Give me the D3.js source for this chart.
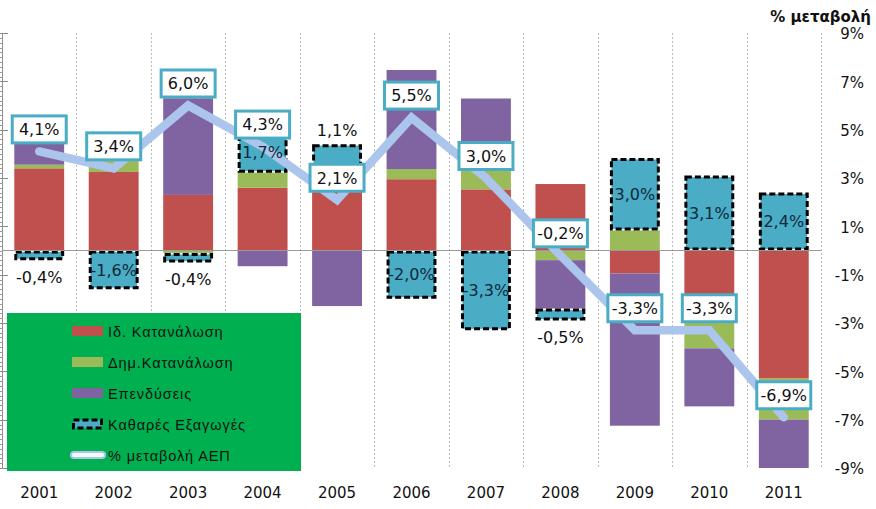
<!DOCTYPE html>
<html><head><meta charset="utf-8">
<script src="https://cdn.jsdelivr.net/npm/d3@7"></script>
<style>
body{margin:0;background:#fff;}
svg{display:block;}
</style></head>
<body>
<svg id="chart" width="876" height="509"></svg>
<script>
const years = ["2001","2002","2003","2004","2005","2006","2007","2008","2009","2010","2011"];
const privCons = [3.4, 3.25, 2.3, 2.6, 2.9, 2.95, 2.53, 2.75, -0.95, -3.0, -5.3];
const pubCons  = [0.15, 0.45, -0.1, 0.62, 0.4, 0.42, 0.83, -0.4, 0.83, -1.05, -1.7];
const invest   = [0.95, 0.0, 4.0, -0.65, -2.3, 4.1, 2.93, -2.0, -6.3, -2.4, -2.3];
const netExp   = [-0.4, -1.6, -0.4, 1.7, 1.1, -2.0, -3.3, -0.5, 3.0, 3.1, 2.4];
const gdp      = [4.1, 3.4, 6.0, 4.3, 2.1, 5.5, 3.0, -0.2, -3.3, -3.3, -6.9];
const yTicks   = [9, 7, 5, 3, 1, -1, -3, -5, -7, -9];
const seriesNames = ["Ιδ. Κατανάλωση", "Δημ.Κατανάλωση", "Επενδύσεις", "Καθαρές Εξαγωγές", "% μεταβολή ΑΕΠ"];
const colors = ["#c0504d", "#9bbb59", "#8064a2", "#4bacc6"];
const lineColor = "#abc5ec";

const fmt = v => v.toFixed(1).replace(".", ",") + "%";

const svg = d3.select("#chart");
const pLeft = 2, pRight = 821, pTop = 33, pBottom = 468;

const x = d3.scaleBand().domain(years).range([pLeft, pRight]).paddingInner(0.33).paddingOuter(0.165);
const y = d3.scaleLinear().domain([-9, 9]).range([pBottom, pTop]);
const step = x.step();

const rows = years.map((yr, i) => ({year: yr, p: privCons[i], g: pubCons[i], inv: invest[i], nx: netExp[i], gdp: gdp[i]}));
const keys = ["p", "g", "inv", "nx"];
const stacked = d3.stack().keys(keys).offset(d3.stackOffsetDiverging)(rows);

svg.append("clipPath").attr("id", "plotclip").append("rect")
  .attr("x", pLeft).attr("y", pTop).attr("width", pRight - pLeft).attr("height", pBottom - pTop);

// vertical dotted gridlines at category boundaries
svg.append("g").selectAll("line").data(years).join("line")
  .attr("x1", d => Math.round(x(d) + x.bandwidth() + (step - x.bandwidth()) / 2) + 0.5)
  .attr("x2", d => Math.round(x(d) + x.bandwidth() + (step - x.bandwidth()) / 2) + 0.5)
  .attr("y1", pTop).attr("y2", pBottom)
  .attr("stroke", "#b8b8b8").attr("stroke-width", 1).attr("stroke-dasharray", "2,2");

// left axis with minor ticks
const axG = svg.append("g");
axG.append("line").attr("x1", pLeft + 0.5).attr("x2", pLeft + 0.5).attr("y1", pTop).attr("y2", pBottom)
  .attr("stroke", "#8c8c8c").attr("stroke-width", 1);
axG.selectAll("line.minor").data(d3.range(-45, 46)).join("line").attr("class", "minor")
  .attr("x1", pLeft - 2).attr("x2", pLeft + 1)
  .attr("y1", d => Math.round(y(d / 5)) + 0.5).attr("y2", d => Math.round(y(d / 5)) + 0.5)
  .attr("stroke", "#9a9a9a").attr("stroke-width", 1);
axG.selectAll("line.major").data(yTicks).join("line").attr("class", "major")
  .attr("x1", pLeft - 2).attr("x2", pLeft + 6)
  .attr("y1", d => Math.round(y(d)) + 0.5).attr("y2", d => Math.round(y(d)) + 0.5)
  .attr("stroke", "#8c8c8c").attr("stroke-width", 1);

// bars
const barsG = svg.append("g").attr("clip-path", "url(#plotclip)");
stacked.forEach((s, si) => {
  const isNx = si === 3;
  const g = barsG.append("g");
  g.selectAll("rect").data(s).join("rect")
    .attr("x", d => x(d.data.year) + (isNx ? 1.5 : 0))
    .attr("width", x.bandwidth() - (isNx ? 3 : 0))
    .attr("y", d => y(Math.max(d[0], d[1])) + (isNx ? 1.5 : 0))
    .attr("height", d => Math.max(0, Math.abs(y(d[0]) - y(d[1])) - (isNx ? 3 : 0)))
    .attr("fill", colors[si])
    .attr("stroke", isNx ? "#000" : "none")
    .attr("stroke-width", isNx ? 3 : 0)
    .attr("stroke-dasharray", isNx ? "6,3" : null);
});

// zero line
svg.append("line").attr("x1", pLeft).attr("x2", pRight)
  .attr("y1", Math.round(y(0)) - 0.5).attr("y2", Math.round(y(0)) - 0.5)
  .attr("stroke", "#9a9a9a").attr("stroke-width", 1);

// GDP line
const line = d3.line().x(d => x(d.year) + x.bandwidth() / 2).y(d => y(d.gdp));
svg.append("path").datum(rows).attr("d", line)
  .attr("fill", "none").attr("stroke", lineColor).attr("stroke-width", 8.5)
  .attr("stroke-linecap", "round").attr("stroke-linejoin", "miter");

// net export labels
const nxS = stacked[3];
const nxG = svg.append("g");
nxS.forEach(d => {
  const v = d.data.nx;
  const cx = x(d.data.year) + x.bandwidth() / 2;
  const lo = y(Math.min(d[0], d[1])), hi = y(Math.max(d[0], d[1]));
  let ty;
  if (Math.abs(v) >= 1.5) ty = (lo + hi) / 2;
  else if (v > 0) ty = hi - 14;
  else ty = lo + 17;
  nxG.append("text").attr("x", cx).attr("y", ty).attr("dy", "0.36em")
    .attr("text-anchor", "middle").attr("font-family", "DejaVu Sans, Verdana, sans-serif")
    .attr("font-size", 16).attr("fill", Math.abs(v) >= 1.5 ? "#0d2a3a" : "#111").text(fmt(v));
});

// GDP labels in boxes
const lblG = svg.append("g");
rows.forEach(d => {
  const cx = x(d.year) + x.bandwidth() / 2;
  const cy = y(d.gdp) - 22;
  const bw = 54, bh = 27;
  lblG.append("rect").attr("x", cx - bw / 2).attr("y", cy - bh / 2).attr("width", bw).attr("height", bh)
    .attr("fill", "#fff").attr("stroke", "#4bacc6").attr("stroke-width", 3);
  lblG.append("text").attr("x", cx).attr("y", cy).attr("dy", "0.36em")
    .attr("text-anchor", "middle").attr("font-family", "DejaVu Sans, Verdana, sans-serif")
    .attr("font-size", 16).attr("fill", "#111").text(fmt(d.gdp));
});

// right axis labels
svg.append("g").selectAll("text").data(yTicks).join("text")
  .attr("x", 864).attr("y", d => y(d) + 1).attr("dy", "0.36em")
  .attr("text-anchor", "end").attr("font-family", "DejaVu Sans, Verdana, sans-serif")
  .attr("font-size", 15).attr("fill", "#111").text(d => d + "%");

svg.append("text").attr("x", 871).attr("y", 22).attr("text-anchor", "end")
  .attr("font-family", "DejaVu Sans, Verdana, sans-serif").attr("font-weight", "bold")
  .attr("font-size", 15).attr("fill", "#111").text("% μεταβολή");

// x labels
svg.append("g").selectAll("text").data(years).join("text")
  .attr("x", d => x(d) + x.bandwidth() / 2).attr("y", 493).attr("dy", "0.36em")
  .attr("text-anchor", "middle").attr("font-family", "DejaVu Sans, Verdana, sans-serif")
  .attr("font-size", 15).attr("fill", "#111").text(d => d);

// legend
const lg = svg.append("g");
lg.append("rect").attr("x", 7).attr("y", 313).attr("width", 294).attr("height", 158).attr("fill", "#00b050");
seriesNames.forEach((name, i) => {
  const cy = 331 + i * 31;
  if (i < 3) {
    lg.append("rect").attr("x", 72).attr("y", cy - 5).attr("width", 31).attr("height", 10).attr("fill", colors[i]);
  } else if (i === 3) {
    lg.append("rect").attr("x", 73.5).attr("y", cy - 4).attr("width", 28).attr("height", 8).attr("fill", colors[3])
      .attr("stroke", "#000").attr("stroke-width", 3).attr("stroke-dasharray", "6,3");
  } else {
    lg.append("line").attr("x1", 74).attr("x2", 102).attr("y1", cy).attr("y2", cy)
      .attr("stroke", lineColor).attr("stroke-width", 8).attr("stroke-linecap", "round");
    lg.append("line").attr("x1", 74).attr("x2", 102).attr("y1", cy).attr("y2", cy)
      .attr("stroke", "#f4f8ff").attr("stroke-width", 4).attr("stroke-linecap", "round");
  }
  lg.append("text").attr("x", 108).attr("y", cy + 1).attr("dy", "0.36em")
    .attr("font-family", "Liberation Sans, Arial, sans-serif").attr("font-size", 14.5)
    .attr("letter-spacing", 0.9).attr("fill", "#111").text(name);
});
</script>
</body></html>
